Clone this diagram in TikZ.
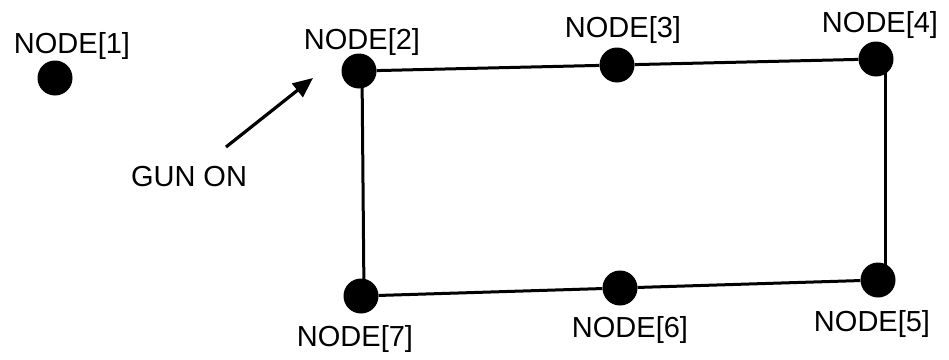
\documentclass[tikz,border=0pt]{standalone}
\usepackage{fontspec}
\setmainfont{Liberation Sans}
\usetikzlibrary{arrows.meta}
\begin{document}
\begin{tikzpicture}[x=1pt,y=-1pt,
  dot/.style={circle,fill=black,inner sep=0pt,minimum size=35pt},
  lbl/.style={inner sep=0pt,font=\fontsize{29}{34}\selectfont},
  edge/.style={line width=3pt},
  gun/.style={line width=3.2pt,-{Triangle[length=20pt,width=17pt]}}]
\useasboundingbox (0,0) rectangle (949,359);
% dots
\node[dot] (n1) at (55,78) {};
\node[dot] (n2) at (359,71) {};
\node[dot] (n3) at (617,65) {};
\node[dot] (n4) at (876,59) {};
\node[dot] (n5) at (878,280) {};
\node[dot] (n6) at (620,288) {};
\node[dot] (n7) at (361,296) {};
% labels
\node[lbl] (l1) at (72,46) {NODE[1]};
\node[lbl] (l2) at (362,42) {NODE[2]};
\node[lbl] (l3) at (623,30) {NODE[3]};
\node[lbl] (l4) at (880,25) {NODE[4]};
\node[lbl] (l5) at (872,324) {NODE[5]};
\node[lbl] (l6) at (630,330) {NODE[6]};
\node[lbl] (l7) at (355,339) {NODE[7]};
\node[lbl] (gunon) at (189,177) {GUN ON};
% edges
\draw[edge] (n2) -- (n3) -- (n4);
\draw[edge] ([xshift=9pt]n4.center) -- ([xshift=7pt]n5.center);
\draw[edge] (n5) -- (n6) -- (n7);
\draw[edge] ([xshift=3pt]n7.center) -- ([xshift=3pt]n2.center);
% arrow
\coordinate (gtail) at (226,147);
\coordinate (ghead) at (313,78);
\draw[gun] (gtail) -- (ghead);
\end{tikzpicture}
\end{document}
